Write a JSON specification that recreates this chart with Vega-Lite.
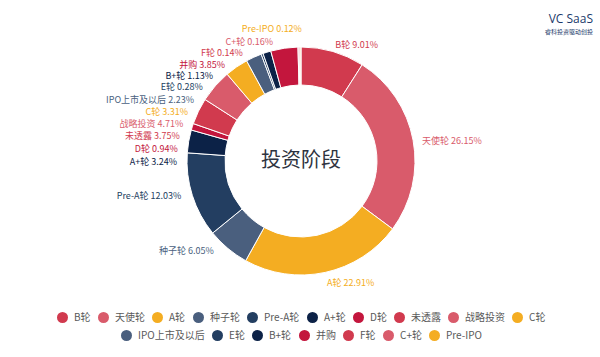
{
  "$schema": "https://vega.github.io/schema/vega-lite/v6.json",
  "width": 602,
  "height": 322,
  "padding": {"top": 0, "left": 0, "right": 0, "bottom": 35},
  "autosize": "none",
  "background": "white",
  "title": {
    "text": "VC SaaS",
    "subtitle": "睿科投资驱动创投",
    "anchor": "end",
    "orient": "top",
    "offset": -36,
    "dx": -9,
    "fontSize": 12,
    "fontWeight": "normal",
    "font": "Open Sans",
    "color": "#1b3a6b",
    "subtitleFont": "Noto Sans CJK SC",
    "subtitleFontSize": 6,
    "subtitleColor": "#1b3a6b",
    "subtitlePadding": 3
  },
  "data": {
    "values": [
      {"order": 1, "name": "B轮", "pct": 9.01, "label": "B轮 9.01%"},
      {"order": 2, "name": "天使轮", "pct": 26.15, "label": "天使轮 26.15%"},
      {"order": 3, "name": "A轮", "pct": 22.91, "label": "A轮 22.91%"},
      {"order": 4, "name": "种子轮", "pct": 6.05, "label": "种子轮 6.05%"},
      {"order": 5, "name": "Pre-A轮", "pct": 12.03, "label": "Pre-A轮 12.03%"},
      {"order": 6, "name": "A+轮", "pct": 3.24, "label": "A+轮 3.24%"},
      {"order": 7, "name": "D轮", "pct": 0.94, "label": "D轮 0.94%"},
      {"order": 8, "name": "未透露", "pct": 3.75, "label": "未透露 3.75%"},
      {"order": 9, "name": "战略投资", "pct": 4.71, "label": "战略投资 4.71%"},
      {"order": 10, "name": "C轮", "pct": 3.31, "label": "C轮 3.31%"},
      {"order": 11, "name": "IPO上市及以后", "pct": 2.23, "label": "IPO上市及以后 2.23%"},
      {"order": 12, "name": "E轮", "pct": 0.28, "label": "E轮 0.28%"},
      {"order": 13, "name": "B+轮", "pct": 1.13, "label": "B+轮 1.13%"},
      {"order": 14, "name": "并购", "pct": 3.85, "label": "并购 3.85%"},
      {"order": 15, "name": "F轮", "pct": 0.14, "label": "F轮 0.14%"},
      {"order": 16, "name": "C+轮", "pct": 0.16, "label": "C+轮 0.16%"},
      {"order": 17, "name": "Pre-IPO", "pct": 0.12, "label": "Pre-IPO 0.12%"}
    ]
  },
  "resolve": {"scale": {"theta": "independent"}},
  "layer": [
    {
      "mark": {"type": "arc", "innerRadius": 76, "outerRadius": 114, "stroke": "white", "strokeWidth": 1},
      "encoding": {
        "theta": {"field": "pct", "type": "quantitative", "stack": true, "scale": {"domain": [0, 100.01]}},
        "order": {"field": "order", "type": "quantitative"},
        "color": {
          "field": "name",
          "type": "nominal",
          "scale": {
            "domain": ["B轮", "天使轮", "A轮", "种子轮", "Pre-A轮", "A+轮", "D轮", "未透露", "战略投资", "C轮", "IPO上市及以后", "E轮", "B+轮", "并购", "F轮", "C+轮", "Pre-IPO"],
            "range": ["#d13a4e", "#d95b6b", "#f4ad22", "#4a5f7e", "#233e61", "#0c2247", "#c3163d", "#d13a4e", "#d95b6b", "#f4ad22", "#4a5f7e", "#233e61", "#0c2247", "#c3163d", "#d13a4e", "#d95b6b", "#f4ad22"]
          },
          "legend": {
            "title": null,
            "values": ["B轮", "天使轮", "A轮", "种子轮", "Pre-A轮", "A+轮", "D轮", "未透露", "战略投资", "C轮"]
          }
        }
      }
    },
    {
      "data": {"values": [{"t": "投资阶段"}]},
      "mark": {"type": "text", "fontSize": 20, "color": "#2e3340", "font": "Noto Sans CJK SC", "baseline": "middle", "align": "center"},
      "encoding": {"text": {"field": "t"}}
    },
    {
      "transform": [{"filter": "datum.order <= 3"}],
      "mark": {"type": "text", "align": "left", "baseline": "middle", "fontSize": 9, "dy": 2, "radius": 123, "font": "Noto Sans CJK SC"},
      "encoding": {
        "theta": {"field": "pct", "type": "quantitative", "stack": true, "scale": {"domain": [0, 100.01]}},
        "order": {"field": "order", "type": "quantitative"},
        "text": {"field": "label"},
        "fill": {
          "field": "name",
          "type": "nominal",
          "scale": {
            "domain": ["IPO上市及以后", "E轮", "B+轮", "并购", "F轮", "C+轮", "Pre-IPO", "B轮", "天使轮", "A轮", "种子轮", "Pre-A轮", "A+轮", "D轮", "未透露", "战略投资", "C轮"],
            "range": ["#4a5f7e", "#233e61", "#0c2247", "#c3163d", "#d13a4e", "#d95b6b", "#f4ad22", "#d13a4e", "#d95b6b", "#f4ad22", "#4a5f7e", "#233e61", "#0c2247", "#c3163d", "#d13a4e", "#d95b6b", "#f4ad22"]
          },
          "legend": {
            "title": null,
            "symbolType": "circle",
            "values": ["IPO上市及以后", "E轮", "B+轮", "并购", "F轮", "C+轮", "Pre-IPO"]
          }
        }
      }
    },
    {
      "transform": [{"filter": "datum.order >= 4"}],
      "mark": {"type": "text", "align": "right", "baseline": "middle", "fontSize": 9, "dy": 2, "font": "Noto Sans CJK SC"},
      "encoding": {
        "theta": {
          "field": "order",
          "type": "quantitative",
          "stack": null,
          "scale": {"domain": [4, 5, 6, 11, 14, 15, 16, 17], "range": [3.922, 4.447, 4.721, 5.241, 5.623, 5.795, 6.056, 6.29]}
        },
        "radius": {
          "field": "order",
          "type": "quantitative",
          "scale": {"type": "linear", "domain": [16, 17], "range": [124, 134], "clamp": true, "zero": false}
        },
        "text": {"field": "label"},
        "fill": {
          "field": "name",
          "type": "nominal",
          "scale": {
            "domain": ["IPO上市及以后", "E轮", "B+轮", "并购", "F轮", "C+轮", "Pre-IPO", "B轮", "天使轮", "A轮", "种子轮", "Pre-A轮", "A+轮", "D轮", "未透露", "战略投资", "C轮"],
            "range": ["#4a5f7e", "#233e61", "#0c2247", "#c3163d", "#d13a4e", "#d95b6b", "#f4ad22", "#d13a4e", "#d95b6b", "#f4ad22", "#4a5f7e", "#233e61", "#0c2247", "#c3163d", "#d13a4e", "#d95b6b", "#f4ad22"]
          },
          "legend": {
            "title": null,
            "symbolType": "circle",
            "values": ["IPO上市及以后", "E轮", "B+轮", "并购", "F轮", "C+轮", "Pre-IPO"]
          }
        }
      }
    }
  ],
  "config": {
    "view": {"stroke": null},
    "legend": {
      "orient": "bottom",
      "direction": "horizontal",
      "symbolType": "circle",
      "symbolSize": 121,
      "symbolStrokeWidth": 0,
      "labelFontSize": 10,
      "labelColor": "#595959",
      "labelFont": "Noto Sans CJK SC",
      "columnPadding": 7,
      "labelOffset": 6,
      "offset": -10,
      "layout": {"bottom": {"anchor": "middle", "direction": "vertical", "center": true, "margin": 7}}
    }
  }
}
